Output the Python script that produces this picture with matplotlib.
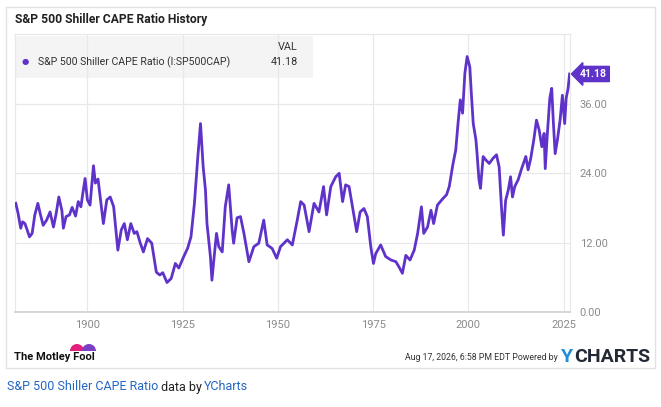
import matplotlib
matplotlib.use("Agg")
import matplotlib.pyplot as plt
from matplotlib.patches import Rectangle, Wedge
import matplotlib.transforms as mtransforms

# CAPE readings (year, value)
years = [1881.2, 1881.8, 1882.5, 1883.0, 1883.6, 1884.2, 1884.8, 1885.5, 1886.2, 1887.0,
         1887.7, 1888.4, 1889.3, 1890.2, 1891.1, 1891.8, 1892.5, 1893.3, 1893.7, 1894.4,
         1895.3, 1896.0, 1896.9, 1897.6, 1898.3, 1898.8, 1899.4, 1900.0, 1900.7, 1901.6,
         1902.1, 1902.8, 1903.5, 1904.2, 1905.1, 1906.0, 1906.9, 1908.0, 1908.9, 1909.7,
         1910.5, 1911.4, 1912.3, 1913.0, 1913.9, 1914.7, 1915.8, 1916.9, 1918.1, 1919.0,
         1919.8, 1920.9, 1922.0, 1923.1, 1924.0, 1925.3, 1926.3, 1927.2, 1928.1, 1929.0,
         1929.7, 1930.4, 1931.0, 1931.4, 1932.3, 1932.7, 1933.2, 1933.9, 1934.5, 1935.4,
         1936.2, 1937.1, 1938.0, 1938.4, 1939.3, 1940.2, 1941.1, 1942.4, 1943.7, 1945.0,
         1946.3, 1947.2, 1948.5, 1949.7, 1950.7, 1952.5, 1953.8, 1955.1, 1956.0, 1956.9,
         1958.2, 1959.5, 1960.8, 1962.0, 1962.8, 1963.9, 1965.2, 1966.1, 1967.0, 1967.8,
         1968.7, 1969.6, 1970.7, 1971.6, 1972.6, 1973.5, 1974.4, 1975.1, 1975.7, 1977.0,
         1978.3, 1979.7, 1981.0, 1981.8, 1982.7, 1983.6, 1984.7, 1985.8, 1986.7, 1987.7,
         1988.3, 1989.3, 1990.2, 1990.9, 1991.9, 1993.3, 1994.3, 1995.0, 1996.0, 1996.7,
         1997.3, 1997.9, 1998.5, 1999.1, 1999.7, 2000.4, 2000.8, 2001.3, 2002.0, 2002.3,
         2002.8, 2003.2, 2003.9, 2004.6, 2005.5, 2006.5, 2007.4, 2008.1, 2008.7, 2009.2,
         2009.8, 2010.5, 2011.1, 2011.6, 2012.2, 2013.1, 2014.0, 2015.1, 2015.7, 2016.4,
         2017.2, 2017.9, 2018.6, 2019.3, 2019.9, 2020.2, 2020.7, 2021.4, 2021.9, 2022.3,
         2022.8, 2023.4, 2024.1, 2024.7, 2025.3, 2025.7, 2026.2, 2026.6]
cape = [18.8, 17.1, 14.5, 15.6, 15.3, 14.2, 13.0, 13.6, 16.8, 18.8,
        16.8, 15.0, 15.9, 17.3, 14.7, 17.0, 19.9, 17.6, 14.5, 16.5,
        16.8, 18.1, 16.6, 19.1, 18.2, 20.5, 23.1, 19.4, 18.5, 25.3,
        22.3, 23.0, 19.1, 15.3, 19.4, 19.9, 18.2, 10.7, 14.2, 15.3,
        12.5, 15.3, 13.6, 13.9, 11.9, 10.4, 12.7, 11.9, 6.9, 6.4,
        6.8, 5.1, 5.8, 8.4, 7.6, 9.6, 11.0, 13.0, 18.8, 26.9,
        32.6, 25.1, 21.1, 15.3, 9.6, 5.5, 9.0, 13.6, 11.3, 10.4,
        18.2, 22.0, 14.2, 11.9, 16.3, 16.5, 13.6, 8.7, 11.3, 11.9,
        15.9, 11.6, 11.0, 9.3, 11.3, 12.5, 11.6, 15.9, 19.1, 18.5,
        13.9, 18.8, 17.3, 21.7, 16.8, 21.7, 23.4, 24.0, 19.1, 22.0,
        21.7, 18.2, 13.9, 17.3, 17.9, 16.5, 11.3, 8.4, 10.1, 11.6,
        9.6, 9.0, 8.7, 7.8, 6.7, 9.8, 9.0, 10.7, 13.6, 18.2,
        13.6, 14.7, 17.6, 15.3, 18.5, 19.6, 20.3, 21.7, 25.7, 28.0,
        32.6, 36.7, 34.4, 41.3, 44.2, 42.4, 37.8, 32.6, 29.8, 27.4,
        22.9, 21.4, 26.9, 26.3, 25.7, 26.6, 27.2, 25.1, 18.2, 13.3,
        19.3, 21.1, 23.4, 19.9, 21.7, 22.9, 24.8, 26.9, 24.6, 26.6,
        29.8, 33.2, 31.5, 28.6, 30.9, 24.8, 30.3, 37.0, 38.7, 33.2,
        27.4, 29.8, 33.2, 37.5, 32.6, 37.0, 38.7, 41.18]
year_ticks = [1900, 1925, 1950, 1975, 2000, 2025]
value_ticks = [0, 12, 24, 36]
last_val = "41.18"

W, H = 661, 407
PURPLE = "#5f33c9"
GRID = "#e8e8e8"
TICK_GREY = "#8a8a8a"
LINK = "#2366c2"

plt.rcParams['font.family'] = ['Roboto', 'DejaVu Sans']

fig = plt.figure(figsize=(W / 100, H / 100), dpi=100)
fig.patch.set_facecolor("white")


def fx(x):
    return x / W


def fy(y):
    return 1 - y / H


# card outline
fig.add_artist(Rectangle((fx(6), fy(368)), fx(649), 361 / H, transform=fig.transFigure,
                         fill=False, ec="#e2e2e2", lw=1))
fig.text(fx(15), fy(19), "S&P 500 Shiller CAPE Ratio History", fontsize=8.7,
         fontweight="bold", color="#222222", va="center", ha="left")

# plot area
ax_l, ax_r, ax_t, ax_b = 15, 570, 34, 312
ax = fig.add_axes([fx(ax_l), fy(ax_b), (ax_r - ax_l) / W, (ax_b - ax_t) / H])
ax.set_xlim(1881, 2026.7)
ax.set_ylim(0, (ax_b - ax_t) / 5.78)
ax.plot(years, cape, color=PURPLE, lw=2.0, zorder=3, solid_joinstyle="round")

ax.set_axisbelow(True)
ax.set_xticks(year_ticks)
ax.set_yticks(value_ticks)
ax.set_yticklabels([f"{v:.2f}" for v in value_ticks])
ax.yaxis.tick_right()
ax.grid(True, color=GRID, lw=0.9)
ax.tick_params(axis="both", length=0, labelsize=8, labelcolor=TICK_GREY)
ax.tick_params(axis="x", pad=6)
ax.tick_params(axis="y", pad=7)
for side in ["left", "right", "top"]:
    ax.spines[side].set_color(GRID)
    ax.spines[side].set_linewidth(0.9)
ax.spines["bottom"].set_color("#cfcfcf")
ax.spines["bottom"].set_linewidth(1.2)

# legend box
ax.add_patch(Rectangle((fx(15), fy(78)), 298 / W, 42 / H, transform=fig.transFigure,
                       fc="#f4f4f4", ec="none", zorder=0.2, clip_on=False))
fig.text(fx(25), fy(62), "\u25CF", fontsize=6, color=PURPLE, va="center", ha="center")
fig.text(fx(38), fy(62), "S&P 500 Shiller CAPE Ratio (I:SP500CAP)", fontsize=7.6,
         color="#333333", va="center", ha="left")
fig.text(fx(298), fy(47), "VAL", fontsize=7.8, color="#333333", va="center", ha="right")
fig.text(fx(298), fy(62), last_val, fontsize=7.8, color="#333333", va="center", ha="right")

# last value tag
ax.annotate(last_val, xy=(ax.get_xlim()[1], cape[-1]), xytext=(7, 0),
            textcoords="offset points", va="center", ha="left", fontsize=7.5,
            fontweight="bold", color="white", annotation_clip=False,
            bbox=dict(boxstyle="larrow,pad=0.25", fc=PURPLE, ec=PURPLE))

# footer: Motley Fool mark (pixel coordinates, y measured from bottom)
px = mtransforms.IdentityTransform()
fig.add_artist(Wedge((77, H - 351), 7, 0, 180, transform=px, fc="#e2207d", ec="none"))
fig.add_artist(Wedge((89, H - 351), 7, 0, 180, transform=px, fc="#7a3fc6", ec="none"))
fig.text(fx(14), fy(357), "The Motley Fool", fontsize=8, fontweight="bold",
         color="#111111", va="center", ha="left")
fig.text(fx(558), fy(358), "Aug 17, 2026, 6:58 PM EDT Powered by", fontsize=6.3,
         color="#333333", va="center", ha="right")
fig.text(fx(561), fy(357), "Y", fontsize=14, fontweight="bold", color="#1f8fd9",
         va="center", ha="left")
fig.text(fx(574), fy(357), "CHARTS", fontsize=14, fontweight="bold", color="#232a36",
         va="center", ha="left")

# caption under the card
fig.text(fx(7), fy(387), "S&P 500 Shiller CAPE Ratio", fontsize=9, color=LINK,
         va="center", ha="left")
fig.text(fx(161), fy(387), "data by", fontsize=9, color="#222222", va="center", ha="left")
fig.text(fx(204), fy(387), "YCharts", fontsize=9, color=LINK, va="center", ha="left")

fig.savefig("out.png", dpi=100, facecolor="white")
